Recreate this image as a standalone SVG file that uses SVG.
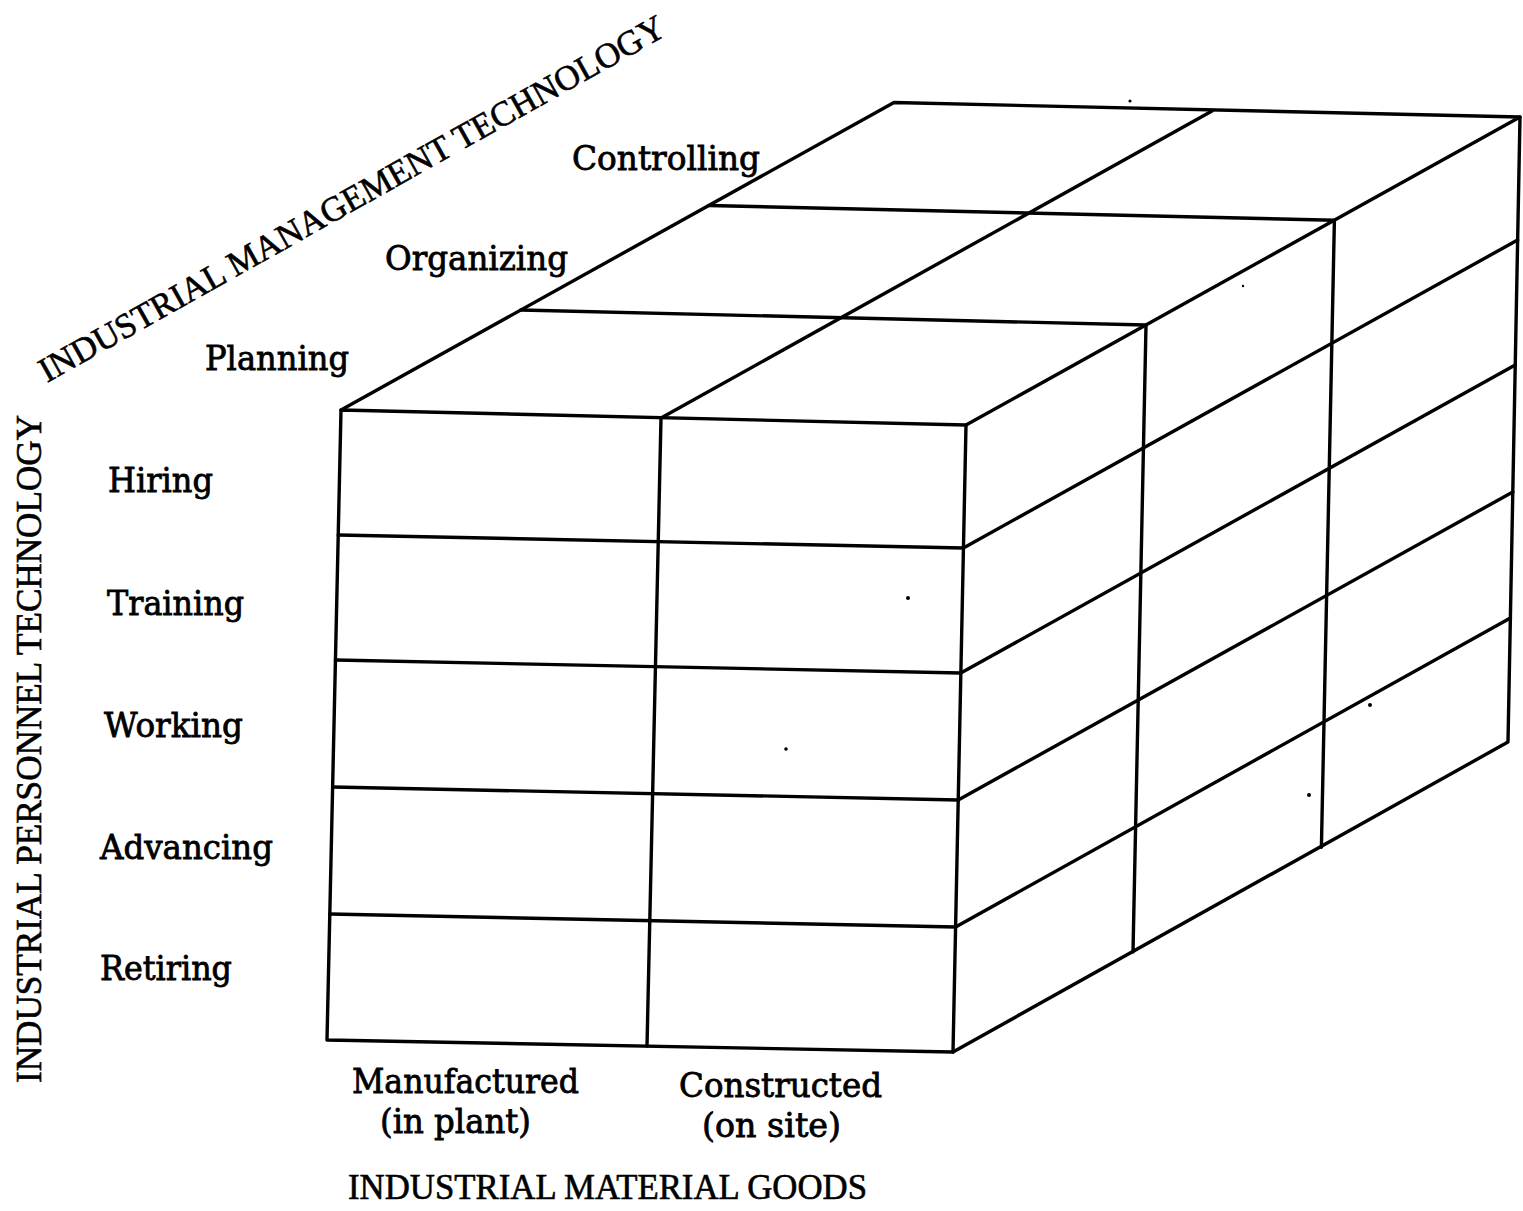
<svg xmlns="http://www.w3.org/2000/svg" width="1523" height="1211" viewBox="0 0 1523 1211">
  <style>
    .edge { fill: none; stroke: #000; stroke-width: 3.4; stroke-linecap: round; stroke-linejoin: round; }
    .lbl { font-family: "DejaVu Serif", "Liberation Serif", serif; font-size: 33px; fill: #000; stroke: #000; stroke-width: 0.8; }
    .axis { font-family: "Liberation Serif", "DejaVu Serif", serif; font-size: 35px; fill: #000; stroke: #000; stroke-width: 0.6; }
    .speck { fill: #000; }
  </style>
  <rect width="1523" height="1211" fill="#fff"/>

  <!-- the 2 x 3 x 5 matrix block -->
  <g id="cube">
    <g id="front-face">
      <path class="edge" d="M341,410 L966,425 L953,1052 L327,1040 Z"/>
      <path class="edge" d="M661,418 L647,1046"/>
      <path class="edge" d="M338.2,535 L963.4,548"/>
      <path class="edge" d="M335.4,660 L960.8,673"/>
      <path class="edge" d="M332.6,787 L958.2,800"/>
      <path class="edge" d="M329.8,914 L955.6,927"/>
    </g>
    <g id="top-face">
      <path class="edge" d="M341,410 L894,102.5 L1520,117 L966,425"/>
      <path class="edge" d="M661,418 L1212,111"/>
      <path class="edge" d="M520.7,310 L1146,325"/>
      <path class="edge" d="M708.7,205.5 L1334.4,220.2"/>
    </g>
    <g id="right-face">
      <path class="edge" d="M1520,117 L1508,742 L953,1052"/>
      <path class="edge" d="M1146,325 L1133,952"/>
      <path class="edge" d="M1334.4,220.2 L1321.4,847.2"/>
      <path class="edge" d="M963.4,548 L1517.6,240"/>
      <path class="edge" d="M960.8,673 L1515.2,365"/>
      <path class="edge" d="M958.2,800 L1512.8,492"/>
      <path class="edge" d="M955.6,927 L1510.4,618"/>
    </g>
  </g>

  <!-- depth axis: management functions -->
  <g id="management-axis">
    <text class="axis" transform="translate(47,383) rotate(-29.3)" textLength="712" lengthAdjust="spacingAndGlyphs">INDUSTRIAL MANAGEMENT TECHNOLOGY</text>
    <text class="lbl" x="572" y="170" textLength="188" lengthAdjust="spacingAndGlyphs">Controlling</text>
    <text class="lbl" x="385" y="270" textLength="183" lengthAdjust="spacingAndGlyphs">Organizing</text>
    <text class="lbl" x="205" y="370" textLength="144" lengthAdjust="spacingAndGlyphs">Planning</text>
  </g>

  <!-- vertical axis: personnel stages -->
  <g id="personnel-axis">
    <text class="axis" transform="translate(41,1083) rotate(-90)" textLength="668" lengthAdjust="spacingAndGlyphs">INDUSTRIAL PERSONNEL TECHNOLOGY</text>
    <text class="lbl" x="108" y="492" textLength="105" lengthAdjust="spacingAndGlyphs">Hiring</text>
    <text class="lbl" x="107" y="615" textLength="137" lengthAdjust="spacingAndGlyphs">Training</text>
    <text class="lbl" x="104" y="737" textLength="139" lengthAdjust="spacingAndGlyphs">Working</text>
    <text class="lbl" x="100" y="859" textLength="173" lengthAdjust="spacingAndGlyphs">Advancing</text>
    <text class="lbl" x="100" y="980" textLength="132" lengthAdjust="spacingAndGlyphs">Retiring</text>
  </g>

  <!-- horizontal axis: material goods -->
  <g id="goods-axis">
    <text class="lbl" x="352" y="1093" textLength="227" lengthAdjust="spacingAndGlyphs">Manufactured</text>
    <text class="lbl" x="380" y="1133" textLength="151" lengthAdjust="spacingAndGlyphs">(in plant)</text>
    <text class="lbl" x="679" y="1097" textLength="203" lengthAdjust="spacingAndGlyphs">Constructed</text>
    <text class="lbl" x="702" y="1137" textLength="139" lengthAdjust="spacingAndGlyphs">(on site)</text>
    <text class="axis" x="348" y="1199" textLength="519" lengthAdjust="spacingAndGlyphs">INDUSTRIAL MATERIAL GOODS</text>
  </g>

  <!-- small specks in the print -->
  <g id="specks">
    <circle class="speck" cx="1130" cy="101" r="1.6"/>
    <circle class="speck" cx="908" cy="598" r="2"/>
    <circle class="speck" cx="786" cy="749" r="1.8"/>
    <circle class="speck" cx="1370" cy="705" r="2"/>
    <circle class="speck" cx="1309" cy="795" r="2"/>
    <circle class="speck" cx="1243" cy="286" r="1.2"/>
  </g>
</svg>
